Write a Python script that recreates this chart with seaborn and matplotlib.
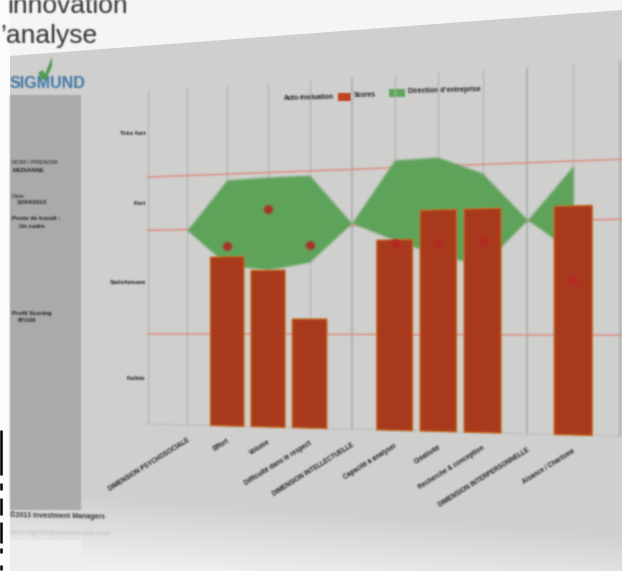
import numpy as np
import pandas as pd
import matplotlib
matplotlib.use('Agg')
import matplotlib.pyplot as plt
import seaborn as sns
from matplotlib.patches import Polygon, Rectangle
from matplotlib.transforms import Transform

# --- DATA ---
categories = ['DIMENSION PSYCHOSOCIALE', 'Effort', 'Volume', 'Difficulté dans le respect',
              'DIMENSION INTELLECTUELLE', 'Capacité à analyser', 'Créativité',
              'Recherche & conception', 'DIMENSION INTERPERSONNELLE', 'Aisance / Charisme']
scores = [np.nan, 49.7, 45.6, 31.4, np.nan, 53.7, 61.8, 61.8, np.nan, 61.9]
auto_eval = [np.nan, 52.9, 63.4, 52.7, np.nan, 52.8, 52.4, 52.9, np.nan, 41.9]
band_upper = [57.8, 72.3, 72.7, 72.8, 58.7, 76.2, 76.5, 71.6, 58.4, 72.7]
band_lower = [57.8, 47.3, 45.7, 47.8, 58.7, 53.6, 49.2, 46.2, 58.4, 49.4]
thresholds = [27, 58, 74]
level_labels = ['Faible', 'Satisfaisant', 'Fort', 'Très fort']
level_ticks = [13.5, 42.5, 66, 87]

W, H = 622, 571
INK = '#1e1e1e'


class Perspective(Transform):
    """The chart is photographed at an angle: (category, score) -> display pixels."""
    input_dims = 2
    output_dims = 2

    def transform_non_affine(self, values):
        values = np.asarray(values, dtype=float)
        x, y = values[:, 0], values[:, 1]
        px = 187 + 39.8 * x + 0.345 * x ** 2
        base = 426 + 0.026 * (px - 228)
        top = 85.5 - 0.06 * (px - 228)
        py = base - y / 100 * (base - top)
        return np.column_stack([px, H - py])


def blur(image, dpi, sigma=0.85):
    # slightly out of focus, like the reference
    pad = 4
    img = np.pad(image, [(pad, pad), (pad, pad), (0, 0)])
    img[..., :3] *= img[..., 3:]
    k = np.exp(-np.arange(-3, 4) ** 2 / (2 * sigma ** 2))
    k /= k.sum()
    for axis in (0, 1):
        img = sum(w * np.roll(img, s, axis=axis) for s, w in zip(range(-3, 4), k))
    a = np.clip(img[..., 3:], 1e-4, None)
    img[..., :3] = np.clip(img[..., :3] / a, 0, 1)
    return img, -pad, -pad


sns.set_style('white')
plt.rcParams['font.family'] = ['Liberation Sans', 'DejaVu Sans']

fig = plt.figure(figsize=(W / 100, H / 100), dpi=100)
fig.patch.set_facecolor('white')

# --- Slide behind the chart, in pixel coordinates ---
bg = fig.add_axes([0, 0, 1, 1], zorder=0)
bg.set_xlim(0, W)
bg.set_ylim(H, 0)
bg.axis('off')

bg.add_patch(Rectangle((0, 0), W, 60, color='#f3f5f7', lw=0, zorder=0))
bg.add_patch(Rectangle((0, 0), 10, H, color='#fbfbfc', lw=0, zorder=0.5))

yy, xx = np.mgrid[0:H, 0:W]
fade = np.clip((yy - (490 + 0.07 * xx)) / 70, 0, 1)
shade = 0.815 + (0.945 - 0.815) * fade
gradient = np.dstack([shade, shade, shade * 0.995])
im = bg.imshow(gradient, extent=(0, W, H, 0), aspect='auto', zorder=1, interpolation='bilinear')
im.set_clip_path(Polygon([(10, 56), (W, 10), (W, H), (10, H)], transform=bg.transData))
bg.set_xlim(0, W)
bg.set_ylim(H, 0)

side = Rectangle((10, 95), 71, 415, color='#ababab', lw=0, zorder=2)
bg.add_patch(side)
bg.add_patch(Rectangle((10, 540), 71, 31, color='#efeced', lw=0, zorder=2))

decor = [side]
decor.append(bg.text(7, 13, 'innovation', fontsize=19, color='#303030', zorder=5))
decor.append(bg.text(0, 43, '’analyse', fontsize=19, color='#303030', zorder=5))
decor.append(bg.text(10, 88, 'SIGMUND', fontsize=11.5, color='#3f76a6', fontweight='bold', zorder=5))
mark = Polygon([(38, 73), (43, 70), (45, 74), (52, 57), (52, 66), (46, 80), (42, 80)],
               color='#4f9a55', lw=0, zorder=6)
bg.add_patch(mark)
decor.append(mark)

side_texts = [(12, 163, 'NOM / PRENOM', False), (13, 170, 'MEDIANNE', True),
              (12, 196, 'Date', False), (17, 203, '12/04/2013', True),
              (12, 219, 'Poste de travail :', True), (19, 226, 'Un cadre', True),
              (12, 314, 'Profil Scoring', True), (18, 321, '87/100', True)]
for tx, ty, label, bold in side_texts:
    decor.append(bg.text(tx, ty, label, fontsize=4.3, color=INK, va='center', zorder=5,
                         fontweight='bold' if bold else 'normal'))
decor.append(bg.text(10, 516, '©2013 Investment Managers', fontsize=5, color='#333333', va='center',
                     fontweight='bold', rotation=-1, zorder=5))
decor.append(bg.text(10, 533, 'www.sigmund-personnalite.com', fontsize=5, color='#c0c0c0', va='center',
                     rotation=-1, zorder=5))

# clipped letters of the next slide at the left edge
for y0, y1 in [(430, 475), (483, 490), (498, 515), (522, 543), (548, 553), (565, 570)]:
    bg.plot([1, 1], [y0, y1], color='black', lw=1.8, solid_capstyle='butt', zorder=7)

# --- Legend, drawn by hand because it follows the perspective ---
decor.append(bg.text(284, 98, 'Auto-évaluation', fontsize=4.8, color=INK, va='center', rotation=1.5,
                     fontweight='bold', zorder=5))
red_key = Rectangle((338, 93), 13, 7.5, color='#c0431d', lw=0, zorder=5)
decor.append(bg.text(354, 95, 'Scores', fontsize=4.8, color=INK, va='center', rotation=1.5,
                     fontweight='bold', zorder=5))
green_key = Rectangle((389, 89), 16, 7.5, color='#62a85d', lw=0, zorder=5)
decor.append(bg.text(408, 91, 'Direction d’entreprise', fontsize=5, color=INK, va='center', rotation=1.5,
                     fontweight='bold', zorder=5))
bg.add_patch(red_key)
bg.add_patch(green_key)
decor += [red_key, green_key]

# --- Chart ---
ax = fig.add_axes([0, 0, 1, 1], zorder=1)
persp = Perspective()
positions = np.arange(len(categories))

df = pd.DataFrame({'categorie': categories, 'score': scores})
sns.barplot(data=df, x='categorie', y='score', color='#a93a1d', saturation=1, width=0.83,
            edgecolor='#c9711f', linewidth=0.9, zorder=4, ax=ax)
for bar in ax.patches:
    bar.set_transform(persp)

band = ax.fill_between(positions, band_lower, band_upper, color='#5fa45b', lw=0, zorder=3)
band.set_transform(persp)

sns.scatterplot(x=positions, y=auto_eval, color='#b32a26', s=42, linewidth=0, alpha=0.95, zorder=5, ax=ax)
dots = ax.collections[-1]
dots.set_offset_transform(persp)

artists = list(ax.patches) + [band, dots]

for i in range(-1, 11):
    thick = i in (4, 8, 10)
    artists += ax.plot([i, i], [0, 100], transform=persp, color='#b2b2b2',
                       lw=1.4 if thick else 0.8, zorder=1)
artists += ax.plot([-1, 10], [0, 0], transform=persp, color='#bdbdbd', lw=0.8, zorder=1)
for t in thresholds:
    artists += ax.plot([-1, 10.2], [t, t], transform=persp, color='#e08d80', lw=1.1, zorder=2)

for tick, label in zip(level_ticks, level_labels):
    artists.append(ax.text(-1.05, tick, label, transform=persp, ha='right', va='center',
                           fontsize=4.6, color=INK, fontweight='bold'))
for i, label in enumerate(categories):
    artists.append(ax.text(i, -3.4, label, transform=persp, ha='right', va='top', rotation=32,
                           rotation_mode='anchor', fontsize=4.7, color=INK, fontweight='bold'))

ax.set_xlim(-1, 10)
ax.set_ylim(0, 100)
ax.axis('off')

for artist in artists + decor:
    artist.set_agg_filter(blur)

fig.savefig('out.png', dpi=100)
plt.close(fig)
